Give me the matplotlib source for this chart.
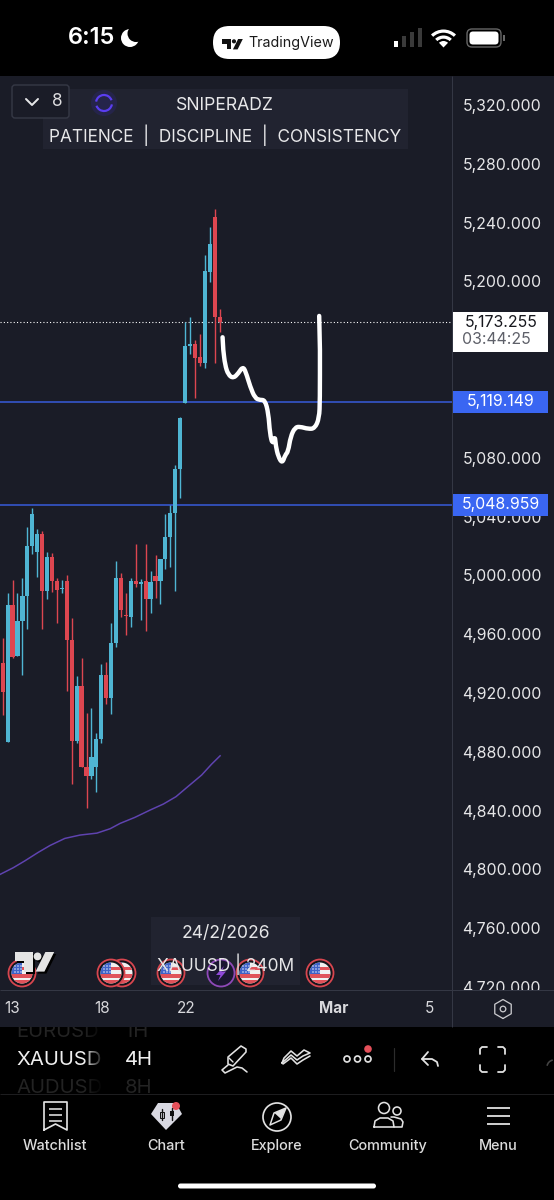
import numpy as np
import matplotlib
matplotlib.use('Agg')
import matplotlib.pyplot as plt
from matplotlib.patches import Circle, Rectangle, FancyBboxPatch, Polygon, Wedge, Arc, PathPatch
from matplotlib.path import Path
from matplotlib.transforms import ScaledTranslation

plt.rcParams['font.family'] = ['Inter', 'DejaVu Sans']

# ====== XAUUSD 4H candles ======
opens = [4940.2, 4886.9, 4979.9, 4945.2, 4969.2, 4986.2, 5020.0, 5015.7, 5027.9, 4989.6, 5012.3, 4996.0,
         4990.5, 4996.0, 4956.1, 4887.6, 4925.0, 4869.4, 4863.8, 4869.9, 4888.9, 4932.2, 4916.4, 4953.8,
         4998.2, 4973.1, 4971.9, 4996.0, 4994.4, 4996.0, 4984.2, 4999.4, 4996.0, 5010.9, 5026.4, 5042.4,
         5072.2, 5117.3, 5156.1, 5157.4, 5148.6, 5144.5, 5206.6, 5244.0, 5176.0]
highs = [4957.2, 4987.8, 4996.9, 4988.3, 4998.5, 5032.7, 5045.6, 5031.3, 5030.2, 5016.1, 5015.5, 4998.5,
         4996.9, 5000.3, 4970.8, 4931.6, 4943.6, 4906.2, 4909.6, 4892.6, 4939.5, 4941.3, 4967.8, 5009.8,
         5001.9, 4987.8, 4998.0, 5021.1, 4997.6, 5021.4, 5003.2, 5013.7, 5011.2, 5041.5, 5047.9, 5075.1,
         5107.8, 5172.4, 5175.8, 5160.1, 5164.2, 5218.0, 5237.0, 5249.3, 5181.2]
lows = [4905.0, 4886.9, 4943.6, 4945.2, 4932.2, 4963.3, 5014.6, 4999.1, 4963.5, 4983.7, 4988.9, 4967.8,
        4987.8, 4921.6, 4858.1, 4885.8, 4869.4, 4841.5, 4861.3, 4852.9, 4885.8, 4912.5, 4905.5, 4951.5,
        4971.9, 4959.5, 4964.7, 4992.3, 4969.7, 4962.4, 4974.2, 4984.4, 4980.5, 5004.1, 5005.9, 4989.4,
        5052.9, 5117.3, 5150.6, 5120.7, 5142.4, 5141.1, 5199.6, 5144.5, 5165.6]
closes = [4920.9, 4979.9, 4944.7, 4969.2, 4986.2, 5020.0, 5041.8, 5027.9, 4989.6, 5012.3, 4996.0, 4990.1,
          4991.2, 4956.1, 4887.6, 4925.0, 4869.4, 4863.8, 4876.7, 4888.9, 4932.2, 4916.4, 4953.8, 4998.2,
          4976.5, 4972.4, 4996.0, 4994.1, 4995.7, 4984.2, 4995.3, 4996.0, 5010.9, 5026.4, 5042.2, 5072.2,
          5107.3, 5156.1, 5157.2, 5148.1, 5144.5, 5207.1, 5225.4, 5176.0, 5172.4]

# moving average under the candles
ma_x = [-0.55, 2.16, 4.52, 7.2, 9.6, 12.6, 15.7, 19.1, 21.8, 23.8, 26.8, 29.9, 32.6, 35.15, 37.3, 40.35, 42.4, 44.1]
ma_y = [4796.6, 4801.2, 4805.9, 4811.6, 4816.3, 4821.1, 4823.4, 4824.7, 4827.7, 4831.3, 4835.4, 4840.4, 4844.5,
        4849.5, 4855.6, 4864.2, 4871.7, 4877.3]

# freehand projection drawn on the chart
sketch_x = [44.6, 44.75, 45.1, 45.76, 46.8, 47.8, 48.7, 49.3, 50.2, 51.2, 52.2, 53.2, 53.9, 54.2, 54.75, 55.2,
            55.4, 55.9, 56.7, 57.3, 57.9, 58.4, 59.3, 60.3, 62.0, 63.3, 64.2, 64.35, 64.35, 64.2]
sketch_y = [5162.0, 5153.4, 5143.2, 5136.4, 5134.1, 5137.5, 5142.0, 5138.6, 5128.4, 5120.5, 5119.3, 5119.3,
            5110.3, 5096.7, 5088.7, 5095.5, 5088.0, 5080.8, 5076.2, 5081.9, 5084.2, 5094.4, 5100.7, 5101.2,
            5099.6, 5100.0, 5106.9, 5119.3, 5153.4, 5176.5]

last_price = 5173.255
countdown = '03:44:25'
level_prices = [5119.149, 5048.959]

# 5160 and 5120 sit under the price tags, so they are left out of the scale
price_ticks = [5320, 5280, 5240, 5200, 5080, 5040, 5000, 4960, 4920, 4880, 4840, 4800, 4760, 4720]
date_ticks = [1.9, 20.1, 37.2, 67.2, 86.5]
date_labels = ['13', '18', '22', 'Mar', '5']

flag_x = [22, 122, 111, 171, 250, 320]
nav_x = [55, 166, 277, 388, 498]
nav_labels = ['Watchlist', 'Chart', 'Explore', 'Community', 'Menu']

BG = '#1a1c27'
PANEL = '#212330'
GRID = '#343744'
UP = '#4fb5d3'
DOWN = '#dd4650'
LEVEL = '#3455c8'
TAG = '#3a66f2'
MA = '#5f43b0'
RING = '#d8464f'
ICON = '#e2e2e2'

W, H = 554, 1200
PX = 0.72  # one pixel in points at 100 dpi

fig = plt.figure(figsize=(W / 100, H / 100), dpi=100, facecolor='black')

# chart background and date strip behind/over the price axes
fig.add_artist(Rectangle((0, 1 - 1027 / H), 1, (1027 - 76) / H, transform=fig.transFigure, fc=BG, ec='none', zorder=-1))
fig.add_artist(Rectangle((0, 1 - 1027 / H), 1, 37 / H, transform=fig.transFigure, fc=BG, ec='none', zorder=1.5))

# ====== Price panel ======
ax = fig.add_axes([0, 1 - 990 / H, 452 / W, (990 - 76) / H], zorder=1, facecolor='none')
ax.set_xlim(-0.548, 91.14)
ax.set_ylim(4718.0, 5339.7)
for s in ax.spines.values():
    s.set_visible(False)
ax.set_xticks([])
ax.yaxis.tick_right()
ax.set_yticks(price_ticks)
ax.set_yticklabels([f'{p:,.3f}' for p in price_ticks])
ax.tick_params(axis='y', length=0, pad=7.5, labelsize=11.4, labelcolor='#e6e6e8')

x = np.arange(len(opens))
o, h, l, c = map(np.array, (opens, highs, lows, closes))
colors = [UP if cl >= op else DOWN for op, cl in zip(o, c)]
ax.vlines(x, l, h, colors=colors, lw=1.4 * PX, zorder=3)
ax.bar(x, np.abs(c - o), bottom=np.minimum(o, c), width=0.85, color=colors, lw=0, zorder=3)

ax.plot(ma_x, ma_y, color=MA, lw=1.5 * PX, zorder=2)

# level lines and their tags sit a touch under the scale position
tag_tr = ax.get_yaxis_transform() + ScaledTranslation(0, -1.3 / 100, fig.dpi_scale_trans)
ax.plot([0, 1], [last_price, last_price], transform=tag_tr, color='white', lw=1.1 * PX, ls=(0, (1, 2)), zorder=2)
for p in level_prices:
    ax.plot([0, 1], [p, p], transform=tag_tr, color=LEVEL, lw=1.7 * PX, zorder=2)

# the freehand line is smoothed with quadratic segments between its points
pts = np.column_stack((sketch_x, sketch_y))
mids = (pts[1:-2] + pts[2:-1]) / 2
verts = [pts[0], pts[1]]
codes = [Path.MOVETO, Path.LINETO]
for ctrl, end in zip(pts[1:-2], mids):
    verts += [ctrl, end]
    codes += [Path.CURVE3, Path.CURVE3]
verts += [pts[-2], pts[-1]]
codes += [Path.LINETO, Path.LINETO]
ax.add_patch(PathPatch(Path(verts, codes), fc='none', ec='white', lw=4.4 * PX, joinstyle='round', capstyle='round',
                       zorder=4))

# price tags sit on the scale, on top of the tick labels
tag_w = 95.5 / 452
step = 1 / 1.47  # price per pixel
ax.add_patch(Rectangle((1.0, last_price - 29.7 * step), tag_w, 40 * step, transform=tag_tr, fc='white', ec='none',
                       clip_on=False, zorder=5))
ax.text(1 + 49 / 452, last_price, f'{last_price:,.3f}', transform=tag_tr, color='#16171d', fontsize=11.4,
        ha='center', va='center', zorder=6)
ax.text(1 + 44 / 452, last_price - 17 * step, countdown, transform=tag_tr, color='#5e6069', fontsize=11.4,
        ha='center', va='center', zorder=6)
for p in level_prices:
    ax.add_patch(Rectangle((1.0, p - 11 * step), tag_w, 22 * step, transform=tag_tr, fc=TAG, ec='none',
                           clip_on=False, zorder=5))
    ax.text(1 + 49 / 452, p, f'{p:,.3f}', transform=tag_tr, color='white', fontsize=11.4, ha='center', va='center',
            zorder=6)

# ====== Date strip ======
ax_time = fig.add_axes([0, 1 - 1027 / H, 452 / W, 37 / H], zorder=2, facecolor='none')
ax_time.set_xlim(ax.get_xlim())
ax_time.set_yticks([])
for s in ax_time.spines.values():
    s.set_visible(False)
ax_time.set_xticks(date_ticks)
ax_time.set_xticklabels(date_labels)
ax_time.tick_params(axis='x', length=0, pad=-18.5, labelsize=11, labelcolor='#d8d8dc')
ax_time.get_xticklabels()[3].set_fontweight('bold')

# ====== Screen furniture, in pixel coordinates ======
ui = fig.add_axes([0, 0, 1, 1], zorder=3, facecolor='none')
ui.set_xlim(0, W)
ui.set_ylim(H, 0)
ui.axis('off')


def line(xs, ys, color=ICON, lw=1.8, **kw):
    kw.setdefault('solid_capstyle', 'round')
    kw.setdefault('solid_joinstyle', 'round')
    ui.plot(xs, ys, color=color, lw=lw * PX, **kw)


def flag(cx, cy=973):
    ui.add_patch(Circle((cx, cy), 13.5, fc='#14151c', ec=RING, lw=1.8 * PX))
    disc = Circle((cx, cy), 10.5, fc='#f0f0f0', ec='none')
    ui.add_patch(disc)
    parts = [Rectangle((cx - 11, cy + 1), 22, 3.5, fc='#e0525a', ec='none'),
             Rectangle((cx - 11, cy + 7), 22, 4, fc='#e0525a', ec='none'),
             Rectangle((cx, cy - 6), 11, 3, fc='#e0525a', ec='none'),
             Rectangle((cx - 11, cy - 11), 11, 12, fc='#3f63c8', ec='none')]
    for part in parts:
        ui.add_patch(part)
        part.set_clip_path(disc)
    for dx in (-7, -4, -1):
        for dy in (-7, -4, -1):
            ui.add_patch(Circle((cx + dx, cy + dy), 0.7, fc='white', ec='none'))


def tv_logo(x0, y0, s, color):
    # s is the scale of the two-part logo mark, origin at top left
    ui.add_patch(Polygon([(x0, y0), (x0 + 18 * s, y0), (x0 + 18 * s, y0 + 20 * s), (x0 + 9 * s, y0 + 20 * s),
                          (x0 + 9 * s, y0 + 9 * s), (x0, y0 + 9 * s)], fc=color, ec='none'))
    ui.add_patch(Circle((x0 + 23 * s, y0 + 4.5 * s), 4 * s, fc=color, ec='none'))
    ui.add_patch(Polygon([(x0 + 31 * s, y0), (x0 + 40 * s, y0), (x0 + 30 * s, y0 + 20 * s), (x0 + 21 * s, y0 + 20 * s)],
                         fc=color, ec='none'))


def wheel_text(tx, ty, label, color):
    # symbol wheel rows are cut off where the wheel ends
    t = ui.text(tx, ty, label, color=color, fontsize=14.6, va='center', clip_on=True)
    t.set_clip_path(Rectangle((0, 1027), W, 66, transform=ui.transData))


# dividers of the chart
line([0, W], [990, 990], color=GRID, lw=1, solid_capstyle='butt')
line([451.5, 451.5], [76, 1027], color=GRID, lw=1, solid_capstyle='butt')

# status bar
ui.text(68, 38, '6:15', color='white', fontsize=17, fontweight='semibold', va='center')
ui.add_patch(Circle((130, 38), 9, fc='white', ec='none'))
ui.add_patch(Circle((136, 33.5), 8.5, fc='black', ec='none'))
ui.add_patch(FancyBboxPatch((213, 26), 127, 33, boxstyle='round,pad=0,rounding_size=16.5', fc='white', ec='none'))
tv_logo(222, 39, 0.52, '#111111')
ui.text(248, 43, 'TradingView', color='#1a1a1a', fontsize=10.3, va='center')
for i, (bx, bh) in enumerate(zip((393.5, 401.5, 409.5, 417.5), (6, 11, 15, 19))):
    ui.add_patch(Rectangle((bx, 47 - bh), 4.5, bh, fc='white' if i == 0 else '#3a3a3a', ec='none'))
for r in (18, 12):
    ui.add_patch(Wedge((443.5, 47.5), r, 226, 314, width=3.2, fc='white', ec='none'))
ui.add_patch(Wedge((443.5, 47.5), 6.5, 226, 314, fc='white', ec='none'))
ui.add_patch(FancyBboxPatch((467, 29), 34, 18, boxstyle='round,pad=0,rounding_size=5', fc='none', ec='#666666', lw=1))
ui.add_patch(FancyBboxPatch((469.5, 31.5), 29, 13, boxstyle='round,pad=0,rounding_size=3.5', fc='white', ec='none'))
ui.add_patch(Rectangle((503, 35), 2, 6, fc='#666666', ec='none'))

# indicator toggle and watermark
ui.add_patch(Rectangle((43, 89), 365, 60, fc=PANEL, ec='none', zorder=1))
ui.add_patch(FancyBboxPatch((12, 85), 57, 33, boxstyle='round,pad=0,rounding_size=3', fc=BG, ec='#363946', lw=1, zorder=2))
line([26, 32, 38], [99, 105, 99], color='#e6e6e8', lw=2, zorder=3)
ui.text(57, 102, '8', color='#dddddf', fontsize=12.4, ha='center', va='center', zorder=3)
ui.add_patch(Circle((104, 103), 13, fc='#2a2560', ec='none', alpha=0.55, zorder=2))
ui.add_patch(Arc((104, 103), 16, 16, theta1=190, theta2=340, color='#5a3df0', lw=2.2 * PX, zorder=3))
ui.add_patch(Arc((104, 103), 16, 16, theta1=10, theta2=160, color='#5a3df0', lw=2.2 * PX, zorder=3))
ui.text(225, 105, 'SNIPERADZ', color='#e8e8ea', fontsize=12.7, ha='center', va='center', zorder=3)
ui.text(225, 135, 'PATIENCE  |  DISCIPLINE  |  CONSISTENCY', color='#e8e8ea', fontsize=12.4, ha='center', va='center',
        zorder=3)

# symbol caption near the bottom of the pane
ui.add_patch(Rectangle((151, 917), 149, 68, fc=PANEL, ec='none', zorder=1))
ui.text(226, 934, '24/2/2026', color='#e6e6e8', fontsize=12.6, ha='center', va='center', zorder=2)
ui.text(226, 964, 'XAUUSD | 240M', color='#e6e6e8', fontsize=12.5, ha='center', va='center', zorder=2)

for cx in flag_x:
    flag(cx)
ui.add_patch(Circle((221, 973), 13.5, fc='#1b1730', ec='#8f49b8', lw=1.8 * PX))
ui.add_patch(Polygon([(224, 966), (216, 975), (220.5, 975), (218, 981), (226, 971.5), (221.5, 971.5)], fc='#8f49d8', ec='none'))
tv_logo(17, 954, 0.98, '#000000')
tv_logo(15, 952, 0.98, '#e4e4e4')

# hex settings button on the scale
hx = 503 + 9.5 * np.sin(np.linspace(0, 2 * np.pi, 7))
hy = 1009 + 9.5 * np.cos(np.linspace(0, 2 * np.pi, 7))
line(hx, hy, color='#c8c8cc', lw=1.3)
ui.add_patch(Circle((503, 1009), 2.8, fc='none', ec='#c8c8cc', lw=1.3 * PX))

# symbol and interval wheels
wheel_text(16, 1060, 'XAUUSD', '#f0f0f0')
wheel_text(125, 1060, '4H', '#f0f0f0')
wheel_text(16, 1032, 'EURUSD', '#232323')
wheel_text(125, 1032, '1H', '#232323')
wheel_text(16, 1088, 'AUDUSD', '#232323')
wheel_text(125, 1088, '8H', '#232323')
fade = np.zeros((1, 64, 4))
fade[0, :, 3] = np.linspace(0, 1, 64)
ui.imshow(fade, extent=(84, 104, 1093, 1027), aspect='auto', zorder=4)
ui.add_patch(Rectangle((104, 1027), 16, 66, fc='black', ec='none', zorder=4))
ui.set_xlim(0, W)
ui.set_ylim(H, 0)

# drawing toolbar
ui.add_patch(Polygon([(228, 1057), (241, 1046), (246, 1049), (246, 1052), (233, 1066), (228, 1064)], fc='none', ec=ICON,
                     lw=1.6 * PX, joinstyle='round'))
line([229, 233], [1058, 1062], lw=1.4)
line([228, 222, 225, 231, 237, 242, 247], [1065, 1070, 1073, 1070, 1067, 1068, 1072], lw=1.6)
line([282, 291, 297, 303, 310, 304, 297, 291, 284, 282], [1063, 1055, 1060, 1056, 1053, 1050, 1056, 1051, 1058, 1063], lw=1.6)
line([283, 291, 297, 303, 310], [1064, 1058, 1064, 1060, 1056], lw=1.6)
for dx in (347, 357.5, 368):
    ui.add_patch(Circle((dx, 1059), 3, fc='none', ec=ICON, lw=1.7 * PX))
ui.add_patch(Circle((368, 1049), 3.8, fc='#e5505a', ec='none'))
line([394, 394], [1048, 1071], color='#2c2c2c', lw=1.2)
line([428, 422, 428], [1052, 1059, 1065], lw=1.8)
line([422, 432, 437, 438], [1059, 1059, 1062, 1066], lw=1.8)
for sx, sy in ((1, 1), (-1, 1), (1, -1), (-1, -1)):
    cx, cy = 492.5 + sx * 12.5, 1059.5 + sy * 12.5
    line([cx - sx * 7, cx - sx * 2, cx, cx], [cy, cy, cy - sy * 2, cy - sy * 7], lw=1.8)
ui.add_patch(Arc((554, 1067), 14, 14, theta1=190, theta2=260, color='#444444', lw=1.6 * PX))

# bottom navigation
line([0, W], [1093.5, 1093.5], color='#1d1d1f', lw=1, solid_capstyle='butt')
line([44, 44, 67, 67, 55.5, 44], [1130, 1102, 1102, 1130, 1124, 1130], lw=1.7)
for y in (1109, 1115, 1121):
    line([49, 62], [y, y], lw=1.6, solid_capstyle='butt')
ui.add_patch(Polygon([(158, 1103), (176, 1103), (182, 1114), (166, 1130), (151, 1114)], fc='#d9d9e2', ec='none'))
line([162, 162], [1109, 1120], color='#111111', lw=1.4)
ui.add_patch(Rectangle((160, 1111.5), 4, 6, fc='#d9d9e2', ec='#111111', lw=1 * PX))
line([172, 172], [1108, 1120], color='#111111', lw=1.4)
ui.add_patch(Rectangle((170, 1111), 4, 5, fc='#111111', ec='none'))
ui.add_patch(Circle((176, 1106), 4, fc='#e5505a', ec='none'))
ui.add_patch(Circle((277, 1117), 14, fc='none', ec=ICON, lw=1.7 * PX))
ui.add_patch(Polygon([(286, 1108), (281, 1120), (270, 1125), (274, 1113)], fc='none', ec=ICON, lw=1.5 * PX, joinstyle='round'))
ui.add_patch(Polygon([(286, 1108), (281, 1119), (274.5, 1113)], fc=ICON, ec='none'))
ui.add_patch(Circle((384, 1108), 5.5, fc='none', ec=ICON, lw=1.6 * PX))
ui.add_patch(Circle((397, 1111), 4, fc='none', ec=ICON, lw=1.6 * PX))
line([374, 375, 380, 388, 393, 394, 374], [1127, 1121, 1118, 1118, 1121, 1127, 1127], lw=1.6)
line([394, 402, 403, 401, 394, 391], [1127, 1127, 1122, 1119, 1117, 1117], lw=1.6)
for y in (1108, 1116, 1124):
    line([487, 510], [y, y], lw=1.8, solid_capstyle='butt')
for nx, label in zip(nav_x, nav_labels):
    ui.text(nx, 1146, label, color='#dcdcdc', fontsize=10.4, fontweight='medium', ha='center', va='center')
ui.add_patch(FancyBboxPatch((178, 1183.5), 198, 5, boxstyle='round,pad=0,rounding_size=2.5', fc='white', ec='none'))

plt.savefig('out.png', dpi=100, facecolor='black')
print('[-] Plot generated in: out.png')
